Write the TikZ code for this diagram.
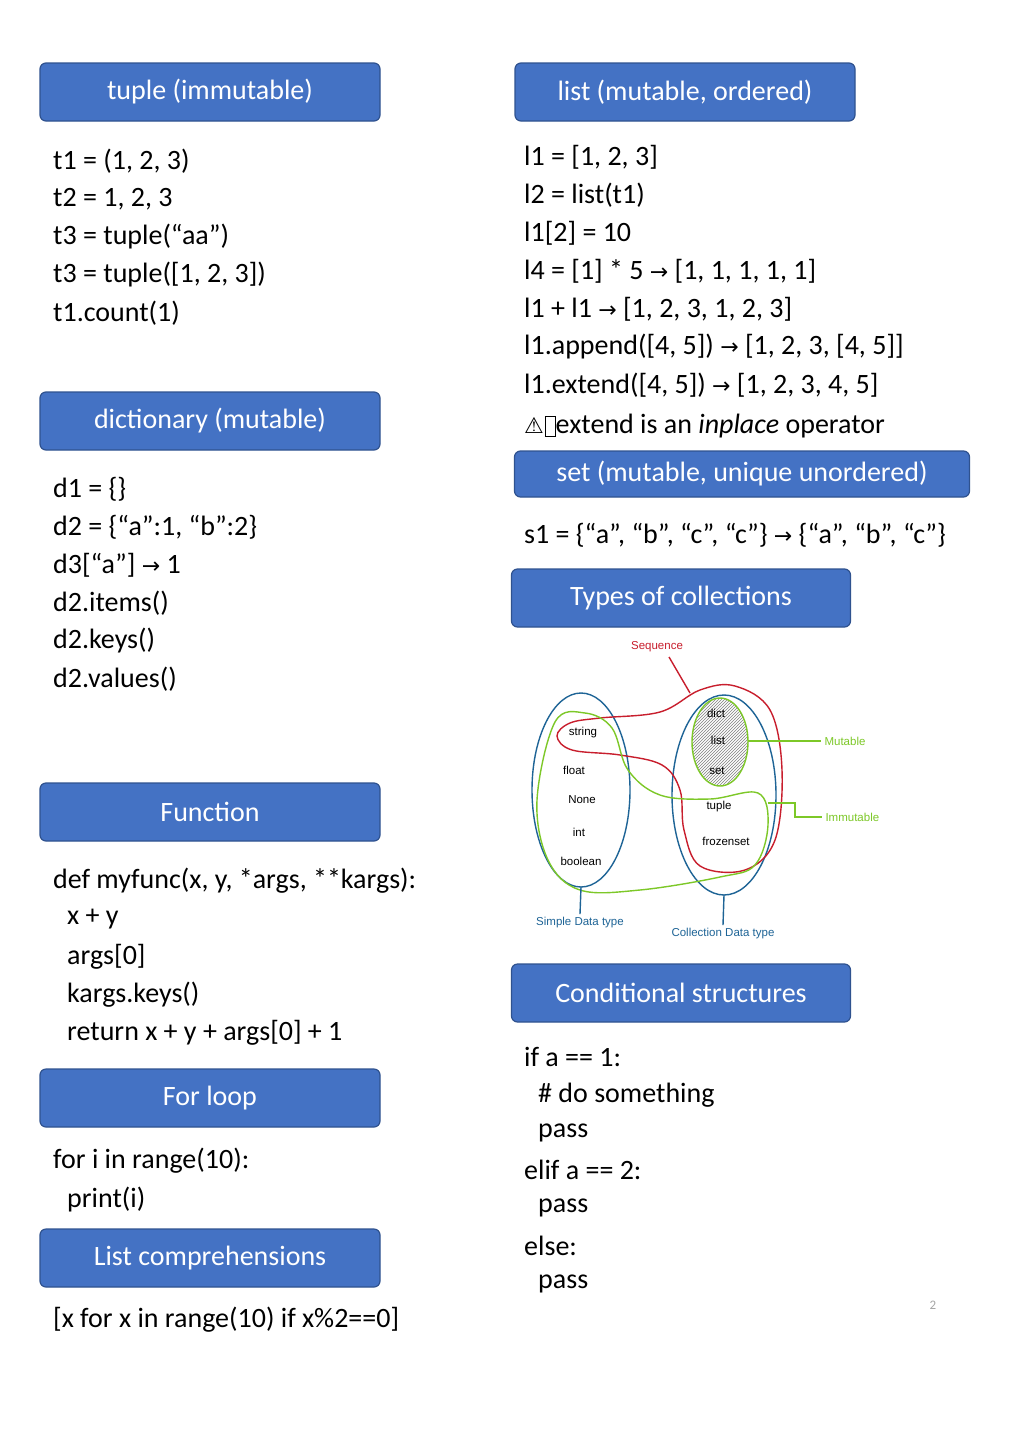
\documentclass[tikz,border=0pt]{standalone}
\usepackage{fontspec}
\setmainfont{Carlito}
\newfontfamily\djvfont{DejaVu Sans}
\newfontfamily\libfont{Liberation Sans}
\usetikzlibrary{patterns}
\definecolor{hdr}{HTML}{4472C4}
\definecolor{hdrb}{HTML}{2F528F}
\definecolor{dblue}{RGB}{30,100,150}
\definecolor{dred}{RGB}{200,30,45}
\definecolor{dgreen}{RGB}{125,200,40}
\newcommand{\myar}{{\djvfont\fontsize{22}{22}\selectfont →}}
\begin{document}
\begin{tikzpicture}[x=1pt,y=-1pt,
  hbox/.style={draw=hdrb,line width=1.2pt,fill=hdr,rounded corners=6pt,text=white,font=\fontsize{28}{30}\selectfont},
  code/.style={anchor=west,font=\fontsize{28}{30}\selectfont,inner sep=0pt},
  dlab/.style={font=\libfont\fontsize{11.5}{12}\selectfont},
  dline/.style={line width=1.4pt}]
\useasboundingbox[fill=white] (0,0) rectangle (1024,1448);
% headers
\node[hbox,minimum width=340pt,minimum height=58pt] (h1) at (210,92) {tuple (immutable)};
\node[hbox,minimum width=340pt,minimum height=58pt] (h2) at (685,92) {list (mutable, ordered)};
\node[hbox,minimum width=340pt,minimum height=58pt] (h3) at (210,421) {dictionary (mutable)};
\node[hbox,minimum width=455pt,minimum height=46pt] (h4) at (742,474) {set (mutable, unique unordered)};
\node[hbox,minimum width=339pt,minimum height=58pt] (h5) at (681,598) {Types of collections};
\node[hbox,minimum width=340pt,minimum height=58pt] (h6) at (210,812) {Function};
\node[hbox,minimum width=339pt,minimum height=58pt] (h7) at (681,993) {Conditional structures};
\node[hbox,minimum width=340pt,minimum height=58pt] (h8) at (210,1098) {For loop};
\node[hbox,minimum width=340pt,minimum height=58pt] (h9) at (210,1258) {List comprehensions};
% tuple
\node[code] (t1) at (53,161) {t1 = (1, 2, 3)};
\node[code] (t2) at (53,199) {t2 = 1, 2, 3};
\node[code] (t3) at (53,237) {t3 = tuple(“aa”)};
\node[code] (t4) at (53,275) {t3 = tuple([1, 2, 3])};
\node[code] (t5) at (53,313) {t1.count(1)};
% list
\node[code] (l1) at (524,157) {l1 = [1, 2, 3]};
\node[code] (l2) at (524,195) {l2 = list(t1)};
\node[code] (l3) at (524,233) {l1[2] = 10};
\node[code] (l4) at (524,271) {l4 = [1] * 5 \myar{} [1, 1, 1, 1, 1]};
\node[code] (l5) at (524,309) {l1 + l1 \myar{} [1, 2, 3, 1, 2, 3]};
\node[code] (l6) at (524,347) {l1.append([4, 5]) \myar{} [1, 2, 3, [4, 5]]};
\node[code] (l7) at (524,385) {l1.extend([4, 5]) \myar{} [1, 2, 3, 4, 5]};
\node[code] (l8) at (524,426) {{\djvfont\fontsize{22}{22}\selectfont ⚠}\kern1pt\fbox{\rule{0pt}{14pt}\kern4pt}extend is an \textit{inplace} operator};
% set
\node[code] (s1) at (524,535) {s1 = \{“a”, “b”, “c”, “c”\} \myar{} \{“a”, “b”, “c”\}};
% dict
\node[code] (d1) at (53,489) {d1 = \{\}};
\node[code] (d2) at (53,527) {d2 = \{“a”:1, “b”:2\}};
\node[code] (d3) at (53,565) {d3[“a”] \myar{} 1};
\node[code] (d4) at (53,603) {d2.items()};
\node[code] (d5) at (53,641) {d2.keys()};
\node[code] (d6) at (53,679) {d2.values()};
% function
\node[code] (f1) at (53,881) {def myfunc(x, y, *args, **kargs):};
\node[code] (f2) at (67,919) {x + y};
\node[code] (f3) at (67,957) {args[0]};
\node[code] (f4) at (67,995) {kargs.keys()};
\node[code] (f5) at (67,1033) {return x + y + args[0] + 1};
% for
\node[code] (o1) at (53,1161) {for i in range(10):};
\node[code] (o2) at (67,1199) {print(i)};
\node[code] (c0) at (53,1320) {[x for x in range(10) if x\%2==0]};
% conditional
\node[code] (k1) at (524,1057) {if a == 1:};
\node[code] (k2) at (538,1095) {\# do something};
\node[code] (k3) at (538,1133) {pass};
\node[code] (k4) at (524,1170) {elif a == 2:};
\node[code] (k5) at (538,1208) {pass};
\node[code] (k6) at (524,1246) {else:};
\node[code] (k7) at (538,1284) {pass};
\node[text=gray!70,font=\fontsize{13}{13}\selectfont] (pg) at (933,1305) {2};
% diagram
\draw[dblue,dline] (581,790) ellipse [x radius=49,y radius=97];
\draw[dblue,dline] (724,795) ellipse [x radius=52,y radius=100];
\draw[dgreen,dline,pattern=north east lines,pattern color=gray] (720,742) ellipse [x radius=28,y radius=44];
\draw[dred,dline] plot[smooth cycle,tension=0.6] coordinates {(600,718) (660,712) (700,690) (735,686) (770,710) (782,770) (775,840) (745,870) (700,866) (684,830) (680,790) (662,765) (620,755) (572,750) (557,736) (570,723)};
\draw[dgreen,dline] plot[smooth cycle,tension=0.6] coordinates {(555,722) (585,713) (612,728) (628,770) (660,795) (710,799) (758,793) (768,825) (755,865) (720,877) (640,890) (580,890) (548,860) (537,800)};
\node[dlab] (sd1) at (583,733) {string};
\node[dlab] (sd2) at (574,770) {float};
\node[dlab] (sd3) at (582,800) {None};
\node[dlab] (sd4) at (579,832) {int};
\node[dlab] (sd5) at (581,861) {boolean};
\node[dlab] (cd1) at (716,713) {dict};
\node[dlab] (cd2) at (718,740) {list};
\node[dlab] (cd3) at (717,771) {set};
\node[dlab] (cd4) at (719,807) {tuple};
\node[dlab] (cd5) at (726,841) {frozenset};
\node[dlab,text=dred] (seq) at (657,647) {Sequence};
\node[dlab,text=dgreen,anchor=west] (mut) at (821,741) {Mutable};
\node[dlab,text=dgreen,anchor=west] (imm) at (822,817) {Immutable};
\node[dlab,text=dblue] (sdt) at (580,923) {Simple Data type};
\node[dlab,text=dblue] (cdt) at (723,934) {Collection Data type};
\coordinate (sqa) at (669,657);
\coordinate (sq) at (690,693);
\coordinate (mu) at (748,741);
\coordinate (im) at (768,803);
\coordinate (sb) at (581,887);
\coordinate (cb) at (724,895);
\draw[dred,dline] (sqa) -- (sq);
\draw[dgreen,dline] (mu) -- (mut.west);
\draw[dgreen,dline] (im) -- (795,803) -- (795,817) -- (imm.west);
\draw[dblue,dline] (sb) -- (sdt.north);
\draw[dblue,dline] (cb) -- (cdt.north);
\end{tikzpicture}
\end{document}
